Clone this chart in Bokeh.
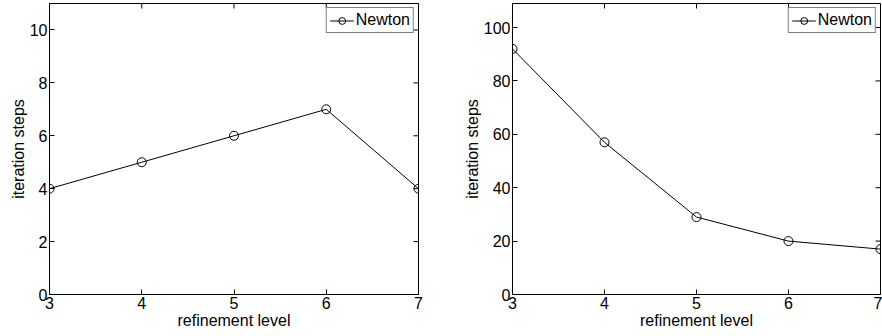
import math
from bokeh.plotting import figure
from bokeh.models import Range1d, FixedTicker
from bokeh.layouts import row
from bokeh.embed import file_html
from bokeh.resources import INLINE

# ---- data ----
levels = [3, 4, 5, 6, 7]
newton_left = [4, 5, 6, 7, 4]
newton_right = [92, 57, 29, 20, 17]
x_ticks = [3, 4, 5, 6, 7]
y_ticks_left = [0, 2, 4, 6, 8, 10]
y_ticks_right = [0, 20, 40, 60, 80, 100]

FONT = "Liberation Sans"


def style_axis(ax, ticks):
    ax.ticker = FixedTicker(ticks=ticks)
    ax.minor_tick_line_color = None
    ax.major_tick_in = 5
    ax.major_tick_out = 0
    ax.major_tick_line_color = "black"
    ax.axis_line_color = "black"
    ax.major_label_text_font = FONT
    ax.major_label_text_color = "black"
    ax.major_label_text_font_size = "16px"
    ax.major_label_standoff = 2
    ax.axis_label_text_font = FONT
    ax.axis_label_text_font_style = "normal"
    ax.axis_label_text_color = "black"
    ax.axis_label_text_font_size = "16px"
    ax.axis_label_standoff = 0


def make_panel(values, ymax, yticks, width, mb_left, mb_right):
    xmin, xmax = x_ticks[0], x_ticks[-1]
    p = figure(width=width, height=336, output_backend="svg", toolbar_location=None,
               x_range=Range1d(xmin, xmax), y_range=Range1d(0, ymax),
               min_border_left=mb_left, min_border_right=mb_right,
               min_border_top=3, min_border_bottom=42)
    p.xgrid.visible = False
    p.ygrid.visible = False
    p.outline_line_color = "black"
    p.outline_line_width = 1
    p.background_fill_color = "white"
    p.border_fill_color = "white"

    style_axis(p.xaxis[0], x_ticks)
    style_axis(p.yaxis[0], yticks)
    p.xaxis[0].axis_label = "refinement level"
    p.yaxis[0].axis_label = "iteration steps"

    # mirrored inward ticks on the right and top frame edges (box on)
    p.scatter([xmax] * len(yticks), yticks, marker="dash", size=10,
              line_color="black", line_width=1)
    p.scatter(x_ticks, [ymax] * len(x_ticks), marker="dash", size=10, angle=math.pi / 2,
              line_color="black", line_width=1)

    p.line(levels, values, line_color="black", line_width=1, legend_label="Newton")
    p.scatter(levels, values, marker="circle", size=9, fill_color=None,
              line_color="black", line_width=1, legend_label="Newton")

    lg = p.legend[0]
    lg.location = "top_right"
    lg.margin = 4
    lg.padding = 3
    lg.spacing = 0
    lg.border_line_color = "black"
    lg.border_line_width = 1
    lg.background_fill_color = "white"
    lg.background_fill_alpha = 1
    lg.label_text_font = FONT
    lg.label_text_font_size = "16px"
    lg.label_text_color = "black"
    lg.glyph_width = 24
    lg.glyph_height = 17
    lg.label_standoff = 2
    lg.label_height = 17
    return p


p1 = make_panel(newton_left, 11, y_ticks_left, 460, 49, 42)
p2 = make_panel(newton_right, 109, y_ticks_right, 422, 52, 2)

layout = row(p1, p2)
open("out.html", "w").write(file_html(layout, INLINE))
